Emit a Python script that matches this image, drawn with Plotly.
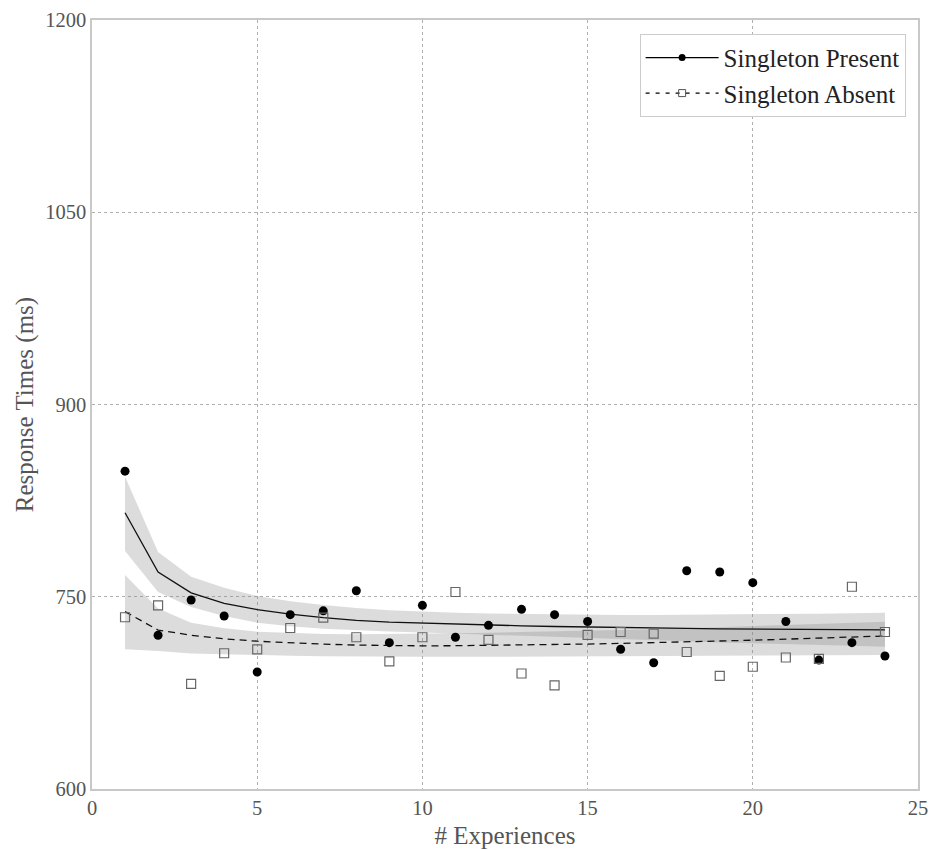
import plotly.graph_objects as go

experiences = list(range(1, 25))

present_obs = [848, 720, 747.5, 735, 691.3, 736, 739, 754.7, 714.2, 743.3, 718.4, 727.7,
               740.2, 736, 730.7, 709, 698.5, 770.3, 769.3, 761, 730.7, 700.6, 714.2, 703.8]
absent_obs = [734, 743.3, 682, 705.9, 709, 725.6, 733.7, 718.4, 699.5, 718.4, 753.7, 716.3,
              690.1, 680.9, 720.3, 722.5, 721.3, 706.9, 688.2, 695.4, 702.6, 701.6, 757.8, 722.5]

present_fit = [815.5, 769.3, 753, 744.9, 740, 736.5, 733.7, 731.5, 730.2, 729.4, 728.6, 727.9,
               727.3, 726.8, 726.3, 725.9, 725.6, 725.3, 725.0, 724.8, 724.6, 724.4, 724.2, 724.1]
present_upper = [843.7, 785, 765.6, 757, 750.6, 746.5, 743.5, 741.2, 739.5, 738.4, 737.6, 737.0,
                 736.6, 736.3, 736.0, 735.8, 735.8, 735.9, 736.0, 736.2, 736.5, 736.8, 737.1, 737.5]
present_lower = [785.7, 753.8, 742, 735, 729.8, 727, 725, 723.8, 722.8, 722.1, 721.3, 720.5,
                 719.7, 718.9, 718.0, 717.2, 716.3, 715.3, 714.3, 713.5, 713.0, 712.3, 711.7, 711.0]

absent_fit = [738.4, 724, 720, 717.2, 715.3, 714, 713, 712.3, 711.9, 711.7, 711.8, 712.0,
              712.3, 712.7, 713.1, 713.6, 714.1, 714.7, 715.4, 716.1, 716.9, 717.7, 718.5, 719.4]
absent_upper = [767, 740.8, 729.7, 725.5, 722.7, 721.6, 721.0, 720.7, 720.8, 721.1, 721.5, 722.0,
                722.5, 722.9, 723.3, 723.9, 724.6, 725.4, 726.3, 727.2, 728.0, 728.8, 729.6, 730.4]
absent_lower = [709, 707.7, 705.8, 705, 704.5, 704, 703.6, 703.3, 703.2, 703.1, 703.1, 703.2,
                703.3, 703.4, 703.5, 703.6, 703.7, 703.8, 703.9, 704.0, 704.2, 704.3, 704.4, 704.5]

x_ticks = [0, 5, 10, 15, 20, 25]
y_ticks = [600, 750, 900, 1050, 1200]

FONT = "Liberation Serif"
band = "rgba(128,128,128,0.28)"

fig = go.Figure()

# confidence bands
for upper, lower in [(present_upper, present_lower), (absent_upper, absent_lower)]:
    fig.add_trace(go.Scatter(x=experiences, y=lower, mode="lines", line=dict(width=0),
                             showlegend=False, hoverinfo="skip"))
    fig.add_trace(go.Scatter(x=experiences, y=upper, mode="lines", line=dict(width=0),
                             fill="tonexty", fillcolor=band, showlegend=False, hoverinfo="skip"))

# fit lines
fig.add_trace(go.Scatter(x=experiences, y=present_fit, mode="lines",
                         line=dict(color="#111111", width=1.3), showlegend=False))
fig.add_trace(go.Scatter(x=experiences, y=absent_fit, mode="lines",
                         line=dict(color="#111111", width=1.3, dash="7px,5px"), showlegend=False))

# observations
fig.add_trace(go.Scatter(x=experiences, y=present_obs, mode="markers",
                         marker=dict(symbol="circle", size=9, color="black"), showlegend=False))
fig.add_trace(go.Scatter(x=experiences, y=absent_obs, mode="markers",
                         marker=dict(symbol="square-open", size=9, color="#666666",
                                     line=dict(width=1.2)), showlegend=False))

# legend entries
fig.add_trace(go.Scatter(x=[None], y=[None], mode="lines+markers", name="Singleton Present",
                         line=dict(color="black", width=1.3),
                         marker=dict(symbol="circle", size=7, color="black")))
fig.add_trace(go.Scatter(x=[None], y=[None], mode="lines+markers", name="Singleton Absent",
                         line=dict(color="black", width=1.3, dash="4px,6px"),
                         marker=dict(symbol="square-open", size=7, color="#555555")))

axis_common = dict(
    showline=True, linecolor="#c8c8c8", linewidth=1.5, mirror=True,
    showgrid=True, gridcolor="#b0b0b0", griddash="dot", gridwidth=1,
    zeroline=False, ticks="", automargin=False,
    tickfont=dict(family=FONT, size=20.5, color="#555555"),
)

fig.update_layout(
    width=930, height=850,
    margin=dict(l=92, r=12, t=20, b=61),
    paper_bgcolor="white", plot_bgcolor="white",
    font=dict(family=FONT, color="#555555"),
    xaxis=dict(range=[0, 25], tickvals=x_ticks, ticktext=[str(v) for v in x_ticks],
               title=dict(text="# Experiences", font=dict(family=FONT, size=25, color="#555555"),
                          standoff=8),
               **axis_common),
    yaxis=dict(range=[600, 1200], tickvals=y_ticks, ticktext=[str(v) for v in y_ticks],
               title=dict(text="Response Times (ms)", font=dict(family=FONT, size=25, color="#555555"),
                          standoff=4),
               **axis_common),
    legend=dict(x=0.985, y=0.982, xanchor="right", yanchor="top", traceorder="normal",
                bgcolor="white", bordercolor="#cccccc", borderwidth=1,
                font=dict(family=FONT, size=25, color="#222222"),
                itemwidth=73, tracegroupgap=0),
)

fig.write_html("out.html")
